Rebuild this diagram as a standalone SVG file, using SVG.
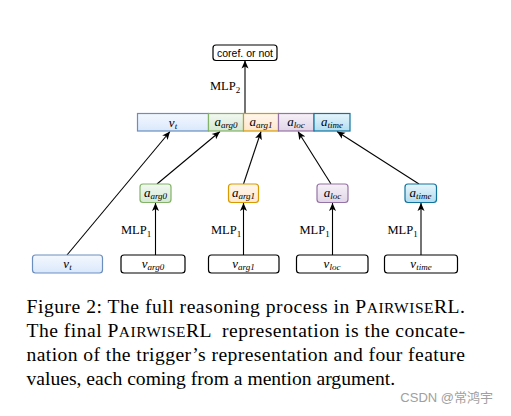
<svg xmlns="http://www.w3.org/2000/svg" width="511" height="416" viewBox="0 0 511 416">
<style>
.plain{fill:#ffffff;stroke:#000000;stroke-width:1.2}
.m{font-family:"Liberation Serif","DejaVu Serif",serif;font-style:italic;font-size:13px;fill:#000}
.sub{font-size:9px}
.r{font-family:"Liberation Serif","DejaVu Serif",serif;font-size:12.5px;fill:#000}
.s{font-family:"Liberation Sans",Arial,sans-serif;font-size:10.5px;fill:#000}
.cap{font-family:"Liberation Serif","Times New Roman",serif;font-size:19.6px;fill:#000}
.sc{font-size:15.5px}
.edge{stroke:#000;stroke-width:1.1;fill:none;marker-end:url(#ah)}
</style>
<defs>
<marker id="ah" markerUnits="userSpaceOnUse" markerWidth="9" markerHeight="8" refX="8" refY="4" orient="auto">
<path d="M0,0.5 L8,4 L0,7.5 L2,4 z" fill="#000"/>
</marker>
<linearGradient id="gBlue" x1="0" y1="0" x2="0" y2="1"><stop offset="0" stop-color="#f4f8fe"/><stop offset="1" stop-color="#dae8fc"/></linearGradient>
<linearGradient id="gGreen" x1="0" y1="0" x2="0" y2="1"><stop offset="0" stop-color="#f2f8f1"/><stop offset="1" stop-color="#d5e8d4"/></linearGradient>
<linearGradient id="gOrange" x1="0" y1="0" x2="0" y2="1"><stop offset="0" stop-color="#fff7ee"/><stop offset="1" stop-color="#ffe6cc"/></linearGradient>
<linearGradient id="gPurple" x1="0" y1="0" x2="0" y2="1"><stop offset="0" stop-color="#f6f1f8"/><stop offset="1" stop-color="#e1d5e7"/></linearGradient>
<linearGradient id="gCyan" x1="0" y1="0" x2="0" y2="1"><stop offset="0" stop-color="#e6f5fb"/><stop offset="1" stop-color="#b1ddf0"/></linearGradient>
</defs>
<rect width="511" height="416" fill="#ffffff"/>

<g id="connectors">
<line class="edge" x1="245" y1="113" x2="245" y2="60.5"/>
<line class="edge" x1="67" y1="255" x2="170" y2="131.5"/>
<line class="edge" x1="157" y1="184" x2="220" y2="131.5"/>
<line class="edge" x1="243.5" y1="184" x2="261" y2="131.5"/>
<line class="edge" x1="331" y1="184" x2="298" y2="131.5"/>
<line class="edge" x1="419" y1="184" x2="337" y2="131.5"/>
<line class="edge" x1="155.5" y1="255" x2="155.5" y2="203"/>
<line class="edge" x1="243.5" y1="255" x2="243.5" y2="203"/>
<line class="edge" x1="332.5" y1="255" x2="332.5" y2="203"/>
<line class="edge" x1="421" y1="255" x2="421" y2="203"/>
<text class="r" x="210" y="90">MLP<tspan class="sub" dy="2.5">2</tspan></text>
<text class="r" x="121" y="234">MLP<tspan class="sub" dy="2.5">1</tspan></text>
<text class="r" x="211" y="234">MLP<tspan class="sub" dy="2.5">1</tspan></text>
<text class="r" x="299.5" y="234">MLP<tspan class="sub" dy="2.5">1</tspan></text>
<text class="r" x="387.5" y="234">MLP<tspan class="sub" dy="2.5">1</tspan></text>
</g>

<g id="coref">
<rect class="plain" x="213" y="45" width="64" height="15.5" rx="3"/>
<text class="s" x="245" y="56.5" text-anchor="middle">coref. or not</text>
</g>

<g id="concat">
<rect x="137.5" y="113.5" width="71" height="17.5" fill="url(#gBlue)" stroke="#6c8ebf" stroke-width="1.2"/>
<text class="m" x="173" y="126.5" text-anchor="middle">v<tspan class="sub" dy="2">t</tspan></text>
<rect x="208.5" y="113.5" width="35" height="17.5" fill="url(#gGreen)" stroke="#82b366" stroke-width="1.2"/>
<text class="m" x="226" y="126" text-anchor="middle">a<tspan class="sub" dy="2">arg0</tspan></text>
<rect x="243.5" y="113.5" width="35" height="17.5" fill="url(#gOrange)" stroke="#d79b00" stroke-width="1.2"/>
<text class="m" x="261" y="126" text-anchor="middle">a<tspan class="sub" dy="2">arg1</tspan></text>
<rect x="278.5" y="113.5" width="35.5" height="17.5" fill="url(#gPurple)" stroke="#9673a6" stroke-width="1.2"/>
<text class="m" x="296" y="126" text-anchor="middle">a<tspan class="sub" dy="2">loc</tspan></text>
<rect x="314" y="113.5" width="36" height="17.5" fill="url(#gCyan)" stroke="#10739e" stroke-width="1.2"/>
<text class="m" x="332" y="126" text-anchor="middle">a<tspan class="sub" dy="2">time</tspan></text>
</g>

<g id="a_arg0">
<rect x="140" y="184" width="31" height="18.5" rx="3" fill="url(#gGreen)" stroke="#82b366" stroke-width="1.2"/>
<text class="m" x="155.5" y="196.5" text-anchor="middle">a<tspan class="sub" dy="2">arg0</tspan></text>
</g>
<g id="a_arg1">
<rect x="228.5" y="184" width="30" height="18.5" rx="3" fill="url(#gOrange)" stroke="#d79b00" stroke-width="1.2"/>
<text class="m" x="243.5" y="196.5" text-anchor="middle">a<tspan class="sub" dy="2">arg1</tspan></text>
</g>
<g id="a_loc">
<rect x="317" y="184" width="31" height="18.5" rx="3" fill="url(#gPurple)" stroke="#9673a6" stroke-width="1.2"/>
<text class="m" x="332.5" y="196.5" text-anchor="middle">a<tspan class="sub" dy="2">loc</tspan></text>
</g>
<g id="a_time">
<rect x="405" y="184" width="31.5" height="18.5" rx="3" fill="url(#gCyan)" stroke="#10739e" stroke-width="1.2"/>
<text class="m" x="420.5" y="196.5" text-anchor="middle">a<tspan class="sub" dy="2">time</tspan></text>
</g>

<g id="v_t">
<rect x="32.5" y="255" width="70" height="18" rx="3" fill="url(#gBlue)" stroke="#6c8ebf" stroke-width="1.2"/>
<text class="m" x="67.5" y="267.5" text-anchor="middle">v<tspan class="sub" dy="2">t</tspan></text>
</g>
<g id="v_arg0">
<rect class="plain" x="121" y="255" width="64" height="18" rx="3"/>
<text class="m" x="153" y="267.5" text-anchor="middle">v<tspan class="sub" dy="2">arg0</tspan></text>
</g>
<g id="v_arg1">
<rect class="plain" x="208.5" y="255" width="70.5" height="18" rx="3"/>
<text class="m" x="243.5" y="267.5" text-anchor="middle">v<tspan class="sub" dy="2">arg1</tspan></text>
</g>
<g id="v_loc">
<rect class="plain" x="296.5" y="255" width="71.5" height="18" rx="3"/>
<text class="m" x="332" y="267.5" text-anchor="middle">v<tspan class="sub" dy="2">loc</tspan></text>
</g>
<g id="v_time">
<rect class="plain" x="384.5" y="255" width="73" height="18" rx="3"/>
<text class="m" x="421" y="267.5" text-anchor="middle">v<tspan class="sub" dy="2">time</tspan></text>
</g>

<g id="caption">
<text class="cap" x="26.5" y="313" textLength="438.5" lengthAdjust="spacing">Figure 2: The full reasoning process in P<tspan class="sc">AIRWISE</tspan>RL.</text>
<text class="cap" x="26.5" y="337" textLength="438.5" lengthAdjust="spacing" xml:space="preserve">The final P<tspan class="sc">AIRWISE</tspan>RL  representation is the concate-</text>
<text class="cap" x="26.5" y="361" textLength="438.5" lengthAdjust="spacing">nation of the trigger’s representation and four feature</text>
<text class="cap" x="26.5" y="385">values, each coming from a mention argument.</text>
<text x="493" y="402" text-anchor="end" font-family="'Liberation Sans','Noto Sans CJK SC',sans-serif" font-size="13" fill="#a0a0a0">CSDN @常鸿宇</text>
</g>
</svg>
